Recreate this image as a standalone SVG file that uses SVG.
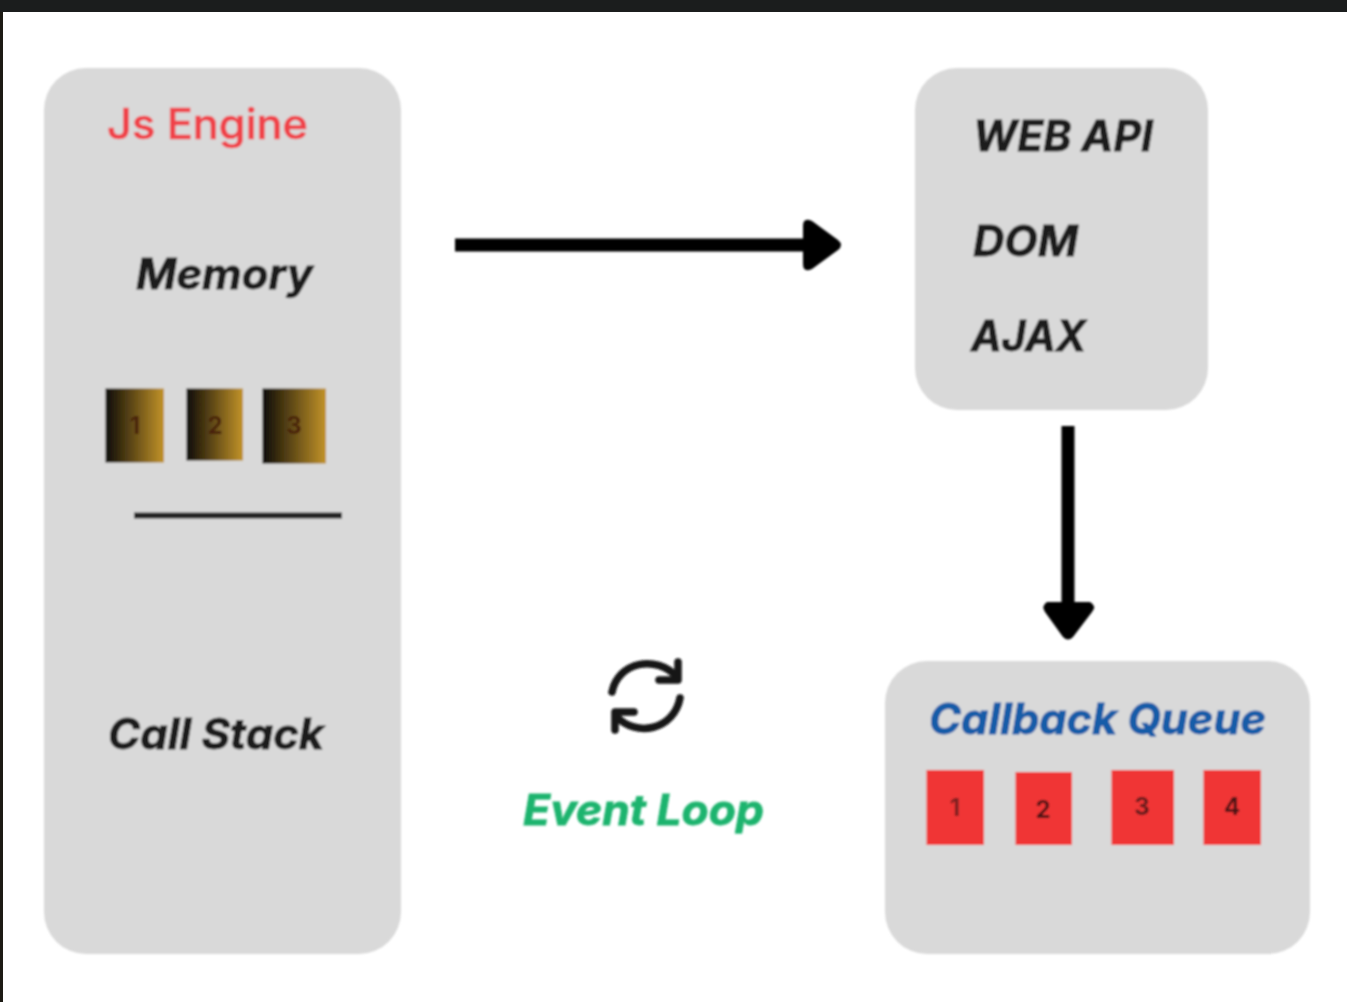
<svg xmlns="http://www.w3.org/2000/svg" width="1347" height="1002" viewBox="0 0 1347 1002">
<style>
.p{fill:#d9d9d9}
text{font-family:"Inter","Open Sans","Liberation Sans",sans-serif}
.t{font-style:italic;font-weight:700;fill:#1c1c1c;font-size:42px;stroke:#1c1c1c;stroke-width:.8px}
.s{font-size:24px;font-weight:700;text-anchor:middle}
.g{fill:url(#gold)}
.r{fill:#f03535}
.c{fill:none;stroke:#000;stroke-width:13}
</style>
<defs>
<linearGradient id="gold" x1="0" y1="0" x2="1" y2="0"><stop offset="0" stop-color="#0d0b06"/><stop offset="1" stop-color="#c29329"/></linearGradient>
<filter id="b"><feGaussianBlur stdDeviation="0.8"/></filter>
</defs>
<rect width="1347" height="1002" fill="#fff"/>
<rect width="1347" height="12" fill="#1b1d1d"/>
<rect y="12" width="3" height="990" fill="#1c1a14"/>
<g filter="url(#b)">
<g id="js-engine">
<rect class="p" x="44" y="68" width="357" height="886" rx="42"/>
<text x="107" y="139" font-size="42" font-weight="500" fill="#f0424a" stroke="#f0424a" stroke-width=".6" textLength="201" lengthAdjust="spacingAndGlyphs">Js Engine</text>
<text class="t" x="136" y="289" textLength="177" lengthAdjust="spacingAndGlyphs">Memory</text>
<rect class="g" x="105.500" y="388.500" width="58.500" height="74"/>
<rect class="g" x="186.500" y="388.500" width="56.500" height="72"/>
<rect class="g" x="262.500" y="388.500" width="63.500" height="75"/>
<text class="s" x="135" y="434" fill="#4a2408">1</text>
<text class="s" x="215" y="434" fill="#4a2408">2</text>
<text class="s" x="294" y="434" fill="#4a2408">3</text>
<rect x="134" y="512.500" width="208" height="6" fill="#222"/>
<text class="t" x="108" y="749" textLength="216" lengthAdjust="spacingAndGlyphs">Call Stack</text>
</g>
<g id="web-api">
<rect class="p" x="915" y="68" width="293" height="342" rx="42"/>
<text class="t" x="973" y="151" textLength="180" lengthAdjust="spacingAndGlyphs">WEB API</text>
<text class="t" x="973" y="256" textLength="105" lengthAdjust="spacingAndGlyphs">DOM</text>
<text class="t" x="971" y="351" textLength="115" lengthAdjust="spacingAndGlyphs">AJAX</text>
</g>
<g id="callback-queue">
<rect class="p" x="885" y="661" width="425" height="293" rx="42"/>
<text x="929" y="734" font-size="42" font-style="italic" font-weight="700" fill="#135ba8" stroke="#135ba8" stroke-width=".8" textLength="337" lengthAdjust="spacingAndGlyphs">Callback Queue</text>
<rect class="r" x="926.500" y="770" width="57.500" height="75"/>
<rect class="r" x="1015.500" y="772" width="56.500" height="73"/>
<rect class="r" x="1111.500" y="770" width="62.500" height="75"/>
<rect class="r" x="1203.500" y="770" width="57.500" height="75"/>
<text class="s" x="955" y="816" fill="#7a2020">1</text>
<text class="s" x="1043" y="818" fill="#4a1515">2</text>
<text class="s" x="1142" y="815" fill="#5a1a1a">3</text>
<text class="s" x="1232" y="815" fill="#4a1515">4</text>
</g>
<g id="event-loop">
<g fill="none" stroke="#161616" stroke-width="7.500" stroke-linecap="round" stroke-linejoin="round">
<path d="M612 692C618 662 656 654 677 677"/>
<path d="M678 662V680H659"/>
<path d="M680 698C674 730 636 738 616 716"/>
<path d="M615 730V712H634"/>
</g>
<text x="523" y="825" font-size="42" font-style="italic" font-weight="700" fill="#1fb46e" stroke="#1fb46e" stroke-width=".8" textLength="241" lengthAdjust="spacingAndGlyphs">Event Loop</text>
</g>
<g id="connectors">
<path class="c" d="M455 245H808"/>
<path d="M803 226Q803 217 812 221L838 240Q844 245 838 250L812 269Q803 273 803 264Z" fill="#000"/>
<path class="c" d="M1068 426V606"/>
<path d="M1047 602H1090Q1097 606 1092 612L1073 637Q1068 642 1063 637L1045 612Q1041 606 1047 602Z" fill="#000"/>
</g>
</g>
</svg>
